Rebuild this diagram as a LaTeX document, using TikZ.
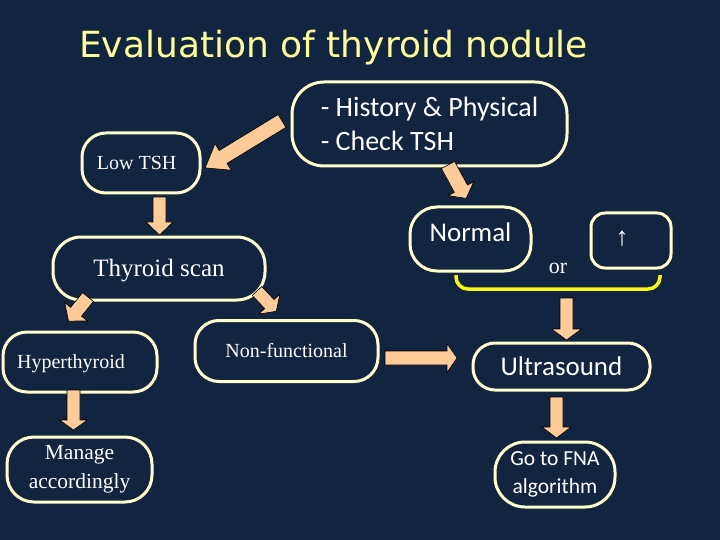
\documentclass[tikz,border=0pt]{standalone}
\usepackage{fontspec}
\newfontfamily\calfont{Carlito}
\newfontfamily\tmsfont{Liberation Serif}
\newfontfamily\verfont{DejaVu Sans}
\definecolor{bg}{RGB}{17,36,64}
\definecolor{cream}{RGB}{255,255,204}
\definecolor{peach}{RGB}{255,204,153}
\definecolor{ttl}{RGB}{255,255,153}
\definecolor{brk}{RGB}{250,250,20}
\tikzset{
  box/.style={draw=cream, line width=3pt, text=white, inner sep=0pt, align=center, rectangle},
  blk/.style={fill=peach, draw=black, line width=0.6pt, line join=miter},
  inlab/.style={text=white, inner sep=0pt, text depth=0pt},
}
\newcommand{\blockarrow}[6]{%
  \draw[blk, shift={(#1)}, rotate=#2] (0,-#4) -- ({#3-#6},-#4) -- ({#3-#6},-#5) -- (#3,0)
    -- ({#3-#6},#5) -- ({#3-#6},#4) -- (0,#4) -- cycle;}
\begin{document}
\begin{tikzpicture}[x=1pt,y=-1pt]
\fill[bg] (0,0) rectangle (720,540);
\useasboundingbox (0,0) rectangle (720,540);

% title
\node[anchor=base west, text=ttl, inner sep=0pt, font=\verfont\fontsize{36}{40}\selectfont] (title) at (79,58) {Evaluation of thyroid nodule};

% boxes
\node[box, minimum width=275pt, minimum height=84pt, rounded corners=32pt,
      font=\calfont\fontsize{28}{34}\selectfont, align=left] (hist) at (429.5,124)
      {- History \& Physical\\- Check TSH};
\node[box, minimum width=118pt, minimum height=60pt, rounded corners=24pt,
      label={[inlab, xshift=-4.3pt, text height=13pt, font=\tmsfont\fontsize{20}{24}\selectfont]center:Low TSH}] (low) at (141,163) {};
\node[box, minimum width=212pt, minimum height=63pt, rounded corners=28pt,
      font=\tmsfont\fontsize{25}{30}\selectfont, text height=16.5pt, text depth=0pt] (thy) at (159,268.5) {Thyroid scan};
\node[box, minimum width=154pt, minimum height=60pt, rounded corners=24pt,
      label={[inlab, xshift=-9pt, text height=13pt, font=\tmsfont\fontsize{20}{24}\selectfont]center:Hyperthyroid}] (hyp) at (80,362) {};
\node[box, minimum width=183pt, minimum height=61pt, rounded corners=24pt,
      font=\tmsfont\fontsize{20}{24}\selectfont, text height=13pt, text depth=0pt] (nonf) at (286.5,351) {Non-functional};
\node[box, minimum width=145pt, minimum height=65pt, rounded corners=27pt,
      font=\tmsfont\fontsize{21.5}{29}\selectfont] (man) at (79.5,469.5) {Manage\\accordingly};
\node[box, minimum width=121pt, minimum height=64pt, rounded corners=27pt,
      label={[inlab, yshift=6pt, text height=17.5pt, font=\calfont\fontsize{27}{32}\selectfont]center:Normal}] (norm) at (470.5,239) {};
\node[box, minimum width=80pt, minimum height=55pt, rounded corners=14pt,
      label={[inlab, xshift=-9pt, yshift=2pt, font=\tmsfont\fontsize{26}{30}\selectfont]center:↑}] (up) at (631,240.5) {};
\node[anchor=base, text=white, inner sep=0pt, font=\tmsfont\fontsize{22}{26}\selectfont] (or) at (558,273) {or};
\node[box, minimum width=177pt, minimum height=47pt, rounded corners=22pt,
      font=\calfont\fontsize{27}{32}\selectfont, text height=17.5pt, text depth=0pt] (ultra) at (561.5,366.5) {Ultrasound};
\node[box, minimum width=120pt, minimum height=65pt, rounded corners=30pt,
      font=\calfont\fontsize{21.5}{28}\selectfont] (fna) at (555,474.5) {Go to FNA\\algorithm};

% bracket joining Normal and the raised box
\coordinate (brl) at (456,275);
\coordinate (brr) at (660,275);
\draw[brk, line width=3.5pt, rounded corners=12pt] (brl) -- (456,289) -- (660,289) -- (brr);

% block arrows: tail, angle, length, shaft half width, head half width, head length
\coordinate (a1) at (282,121);
\coordinate (a2) at (448,165);
\coordinate (a3) at (159.5,197);
\coordinate (a4) at (88,297);
\coordinate (a5) at (257,291);
\coordinate (a6) at (73.5,390);
\coordinate (a7) at (385,358);
\coordinate (a8) at (566.5,298);
\coordinate (a9) at (556.5,397);
\blockarrow{a1}{211.4}{90}{7.5}{15.5}{21}
\blockarrow{a2}{-61.4}{38}{7.5}{14.5}{11}
\blockarrow{a3}{-90}{38}{6.5}{13.5}{13}
\blockarrow{a4}{-128.9}{31}{7}{14.5}{12}
\blockarrow{a5}{-46.5}{28}{6.5}{14.5}{10}
\blockarrow{a6}{-90}{40}{6.5}{14}{10}
\blockarrow{a7}{0}{72}{7}{14.5}{10}
\blockarrow{a8}{-90}{42}{6.5}{15}{11}
\blockarrow{a9}{-90}{41}{6.5}{14.5}{11}
\end{tikzpicture}
\end{document}
